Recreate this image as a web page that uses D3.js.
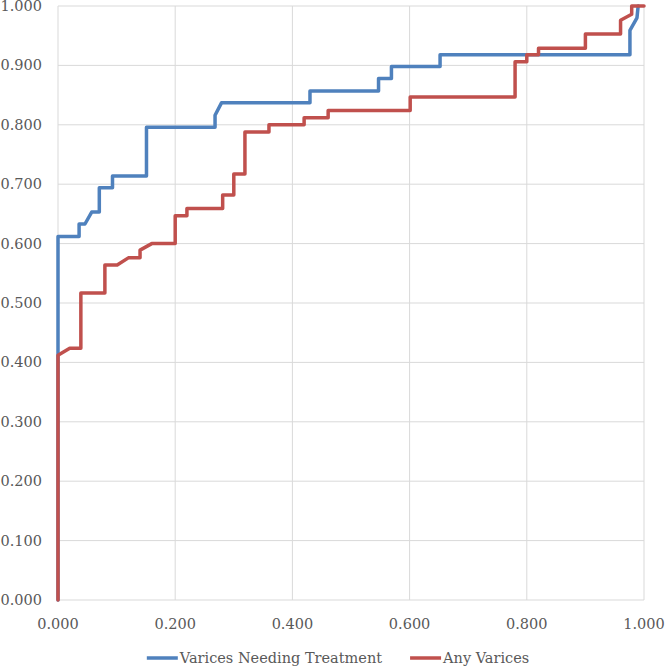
<!DOCTYPE html>
<html><head><meta charset="utf-8">
<script src="https://cdn.jsdelivr.net/npm/d3@7"></script>
<style>body{margin:0;background:#fff}svg{display:block}</style>
</head><body>
<svg id="c" width="665" height="667"></svg>
<script>
const seriesNames = ["Varices Needing Treatment", "Any Varices"];
const colors = ["#4F81BD", "#C0504D"];
const blueX = [0,0,0.036,0.036,0.046,0.0575,0.0705,0.0705,0.093,0.093,0.151,0.151,0.268,0.268,0.279,0.43,0.43,0.547,0.547,0.569,0.569,0.652,0.652,0.976,0.976,0.988,0.99];
const blueY = [0,0.612,0.612,0.633,0.633,0.653,0.653,0.694,0.694,0.714,0.714,0.796,0.796,0.816,0.837,0.837,0.857,0.857,0.878,0.878,0.898,0.898,0.918,0.918,0.959,0.980,1.0];
const redX = [0,0,0.02,0.039,0.039,0.080,0.080,0.101,0.12,0.140,0.140,0.16,0.2,0.2,0.22,0.22,0.281,0.281,0.300,0.300,0.319,0.319,0.360,0.360,0.420,0.420,0.461,0.461,0.601,0.601,0.780,0.780,0.800,0.800,0.820,0.820,0.900,0.900,0.960,0.960,0.979,0.979,1.0];
const redY = [0,0.412,0.424,0.424,0.517,0.517,0.564,0.564,0.576,0.576,0.589,0.600,0.600,0.647,0.647,0.659,0.659,0.682,0.682,0.717,0.717,0.788,0.788,0.800,0.800,0.812,0.812,0.824,0.824,0.847,0.847,0.906,0.906,0.918,0.918,0.929,0.929,0.953,0.953,0.976,0.986,1.0,1.0];
const xTicks = [0,0.2,0.4,0.6,0.8,1.0];
const yTicks = [0,0.1,0.2,0.3,0.4,0.5,0.6,0.7,0.8,0.9,1.0];

const svg = d3.select("#c");
const font = "DejaVu Serif, serif";
const x = d3.scaleLinear().domain([0,1]).range([58,644]);
const y = d3.scaleLinear().domain([0,1]).range([600,6]);
const fmt = d3.format(".3f");

const g = svg.append("g");
g.selectAll("line.h").data(yTicks).join("line")
  .attr("x1", x(0)).attr("x2", x(1)).attr("y1", d=>y(d)).attr("y2", d=>y(d))
  .attr("stroke", "#d9d9d9").attr("stroke-width", 1);
g.selectAll("line.v").data(xTicks).join("line")
  .attr("x1", d=>x(d)).attr("x2", d=>x(d)).attr("y1", y(0)).attr("y2", y(1))
  .attr("stroke", "#d9d9d9").attr("stroke-width", 1);

g.selectAll("text.y").data(yTicks).join("text")
  .attr("x", 42).attr("y", d=>y(d)+5).attr("text-anchor","end")
  .attr("font-family", font).attr("font-size", 14.5).attr("fill","#595959")
  .text(d=>fmt(d));
g.selectAll("text.x").data(xTicks).join("text")
  .attr("x", d=>x(d)).attr("y", 629).attr("text-anchor","middle")
  .attr("font-family", font).attr("font-size", 14.5).attr("fill","#595959")
  .text(d=>fmt(d));

const line = d3.line().x(d=>x(d[0])).y(d=>y(d[1]));
const series = [d3.zip(blueX, blueY), d3.zip(redX, redY)];
series.forEach((s,i)=>{
  svg.append("path").datum(s).attr("d", line).attr("fill","none")
    .attr("stroke", colors[i]).attr("stroke-width", 3.5)
    .attr("stroke-linejoin","round").attr("stroke-linecap","round");
});

// legend
const lg = svg.append("g");
const items = seriesNames.map((n,i)=>{
  const it = lg.append("g");
  it.append("line").attr("x1",0).attr("x2",31).attr("y1",0).attr("y2",0)
    .attr("stroke", colors[i]).attr("stroke-width", 3.5);
  const t = it.append("text").attr("x",33).attr("y",5)
    .attr("font-family", font).attr("font-size", 14.5).attr("fill","#595959").text(n);
  return {it, w: 33 + t.node().getComputedTextLength()};
});
const gap = 28;
const total = items.reduce((a,b)=>a+b.w,0) + gap;
let cx = 338 - total/2;
items.forEach(d=>{ d.it.attr("transform", `translate(${cx},658)`); cx += d.w + gap; });
</script>
</body></html>
